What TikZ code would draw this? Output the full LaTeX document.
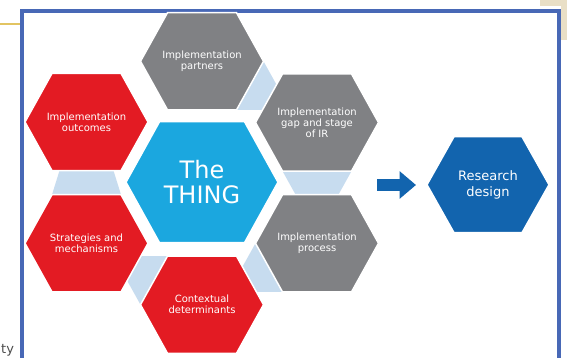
\documentclass[tikz,border=0pt]{standalone}
\usepackage{fontspec}
\setmainfont{DejaVu Sans}
\usepackage{xcolor}
\usepackage{tikz}
\usetikzlibrary{arrows.meta}

\definecolor{hexred}{HTML}{E31B23}
\definecolor{hexgray}{HTML}{808184}
\definecolor{hexcyan}{HTML}{1BA7DF}
\definecolor{hexblue}{HTML}{1264AE}
\definecolor{bridgeblue}{HTML}{C7DCEF}
\definecolor{framebl}{HTML}{4868B6}
\definecolor{rulegold}{HTML}{E2C462}
\definecolor{paper}{HTML}{E9DFC6}

% hexagon: centre x, centre y, half width, half top edge, half height, colour
\newcommand{\hexa}[6]{%
  \filldraw[fill=#6, draw=white, line width=1.5pt]
    (#1+#3,#2) -- (#1+#4,#2-#5) -- (#1-#4,#2-#5) -- (#1-#3,#2)
    -- (#1-#4,#2+#5) -- (#1+#4,#2+#5) -- cycle;}

\tikzset{
  lbl/.style={text=white, align=center, inner sep=0pt, font=\fontsize{10}{11}\selectfont},
  bridge/.style={fill=bridgeblue},
  flow/.style={hexblue, line width=12.4pt, -{Triangle[length=16.4pt,width=26.6pt]}}
}

\begin{document}
\begin{tikzpicture}[x=1pt, y=-1pt]
        \useasboundingbox (0,0) rectangle (567,358);
        \clip (0,0) rectangle (567,358);
        \fill[white] (0,0) rectangle (567,358);
        %PAGE AROUND
        \fill[paper] (540,0) -- (567,0) -- (567,40) -- (561,40) -- (561,6) -- (540,6) -- cycle;
        \draw[rulegold, line width=1.2pt] (0,24) -- (20,24);
        \node[anchor=base west, inner sep=0pt, text=black!70, font=\fontsize{13}{13}\selectfont] (cut) at (1,353) {ty};
        %FRAME
        \draw[framebl, line width=4pt] (22,11) rectangle (558.5,380);
        %BRIDGES
        \fill[bridge] (263.5,61.3) -- (236.5,109.9) -- (290.5,109.9) -- cycle;
        \fill[bridge] (282.5,171.1) -- (351.5,171.1) -- (317,233.2) -- cycle;
        \fill[bridge] (255.5,243.3) -- (282.5,291.9) -- (228.5,291.9) -- cycle;
        \fill[bridge] (140.5,304.7) -- (167.5,256.1) -- (113.5,256.1) -- cycle;
        \fill[bridge] (52,194.7) -- (121,194.7) -- (86.5,84) -- cycle;
        %HEXAGONS
        \hexa{202}{61.3}{61.5}{34.5}{48.6}{hexgray}
        \hexa{317}{122.5}{61.5}{34.5}{48.6}{hexgray}
        \hexa{317}{243.3}{61.5}{34.5}{48.6}{hexgray}
        \hexa{202}{304.7}{61.5}{34.5}{48.6}{hexred}
        \hexa{86.5}{243.3}{61.5}{34.5}{48.6}{hexred}
        \hexa{86.5}{122}{61.5}{34.5}{48.6}{hexred}
        \hexa{202}{182.2}{76}{42.5}{60.5}{hexcyan}
        \hexa{488}{184.7}{61}{34}{48}{hexblue}
        %LABELS
        \node[lbl] (partners) at (202,61.3) {Implementation\\partners};
        \node[lbl] (gap) at (317,122.5) {Implementation\\gap and stage\\of IR};
        \node[lbl] (process) at (317,243.3) {Implementation\\process};
        \node[lbl] (context) at (202,304.7) {Contextual\\determinants};
        \node[lbl] (strategies) at (86.5,243.3) {Strategies and\\mechanisms};
        \node[lbl] (outcomes) at (86.5,122) {Implementation\\outcomes};
        \node[lbl, font=\fontsize{24}{25.5}\selectfont] (thing) at (202,182.2) {The\\THING};
        \node[lbl, font=\fontsize{13}{15.6}\selectfont] (design) at (488,184.7) {Research\\design};
        %ARROW
        \coordinate (flowtail) at (377,185);
        \coordinate (flowtip) at (416,185);
        \draw[flow] (flowtail) -- (flowtip);
\end{tikzpicture}
\end{document}
